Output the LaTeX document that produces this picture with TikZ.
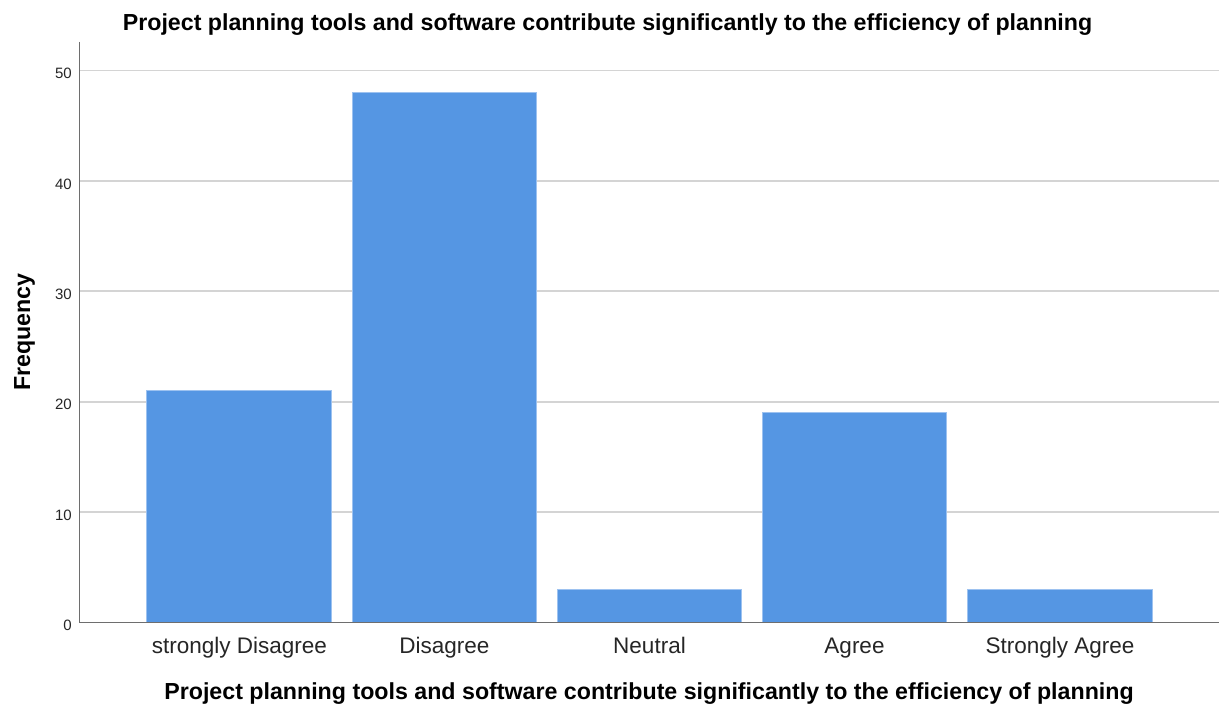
\documentclass[tikz,border=0pt]{standalone}
\usepackage{fontspec}
\setmainfont{Liberation Sans}
\definecolor{barblue}{HTML}{5596E3}
\definecolor{baredge}{HTML}{9DC2F0}
\definecolor{gridgray}{HTML}{D4D4D4}
\definecolor{axisgray}{HTML}{6E6E6E}
\begin{document}
\begin{tikzpicture}[x=1pt,y=1pt,
  bar/.style={fill=barblue,draw=baredge,line width=0.6pt,anchor=south,
    minimum width=184.5pt,inner sep=0pt,outer sep=0pt},
  gridline/.style={draw=gridgray,line width=1.8pt},
  axisline/.style={draw=axisgray,line width=1.4pt},
  ticklabel/.style={anchor=east,inner sep=0pt,font=\fontsize{15}{18}\selectfont,text=black!85},
  catlabel/.style={anchor=base,inner sep=0pt,font=\fontsize{22.5}{26}\selectfont,text=black!85},
  titletext/.style={anchor=base,inner sep=0pt,font=\fontsize{23.2}{27}\selectfont\bfseries}]
\useasboundingbox[fill=white] (0,0) rectangle (1221,706);
% value v sits at y = 83.5 + 11.04 v
\def\unit{11.04}
% horizontal grid
\foreach \v in {10,20,30,40,50}{
  \coordinate (gl\v) at (80,83.5+\v*\unit);
  \coordinate (gr\v) at (1219,83.5+\v*\unit);
  \draw[gridline] (gl\v) -- (gr\v);
  \node[ticklabel] (t\v) at (72,80.5+\v*\unit) {\v};
}
\node[ticklabel] (t0) at (72,80.5) {0};
% bars
\node[bar,minimum height=21*\unit pt] (b1) at (239,83.5) {};
\node[bar,minimum height=48*\unit pt] (b2) at (444.5,83.5) {};
\node[bar,minimum height=3*\unit pt]  (b3) at (649.5,83.5) {};
\node[bar,minimum height=19*\unit pt] (b4) at (854.5,83.5) {};
\node[bar,minimum height=3*\unit pt]  (b5) at (1060,83.5) {};
% axes
\coordinate (origin) at (79.5,83.5);
\coordinate (ytop) at (79.5,664);
\coordinate (xend) at (1219,83.5);
\draw[axisline] (ytop) -- (origin) -- (xend);
% category labels
\node[catlabel] (c1) at (239.5,52) {strongly Disagree};
\node[catlabel] (c2) at (444.5,52) {Disagree};
\node[catlabel] (c3) at (649.5,52) {Neutral};
\node[catlabel] (c4) at (854.5,52) {Agree};
\node[catlabel] (c5) at (1060,52) {Strongly Agree};
% titles
\node[titletext] (title) at (607.5,675) {Project planning tools and software contribute significantly to the efficiency of planning};
\node[titletext] (xtitle) at (649,6) {Project planning tools and software contribute significantly to the efficiency of planning};
\node[titletext,rotate=90] (ytitle) at (30,374) {Frequency};
\end{tikzpicture}
\end{document}
